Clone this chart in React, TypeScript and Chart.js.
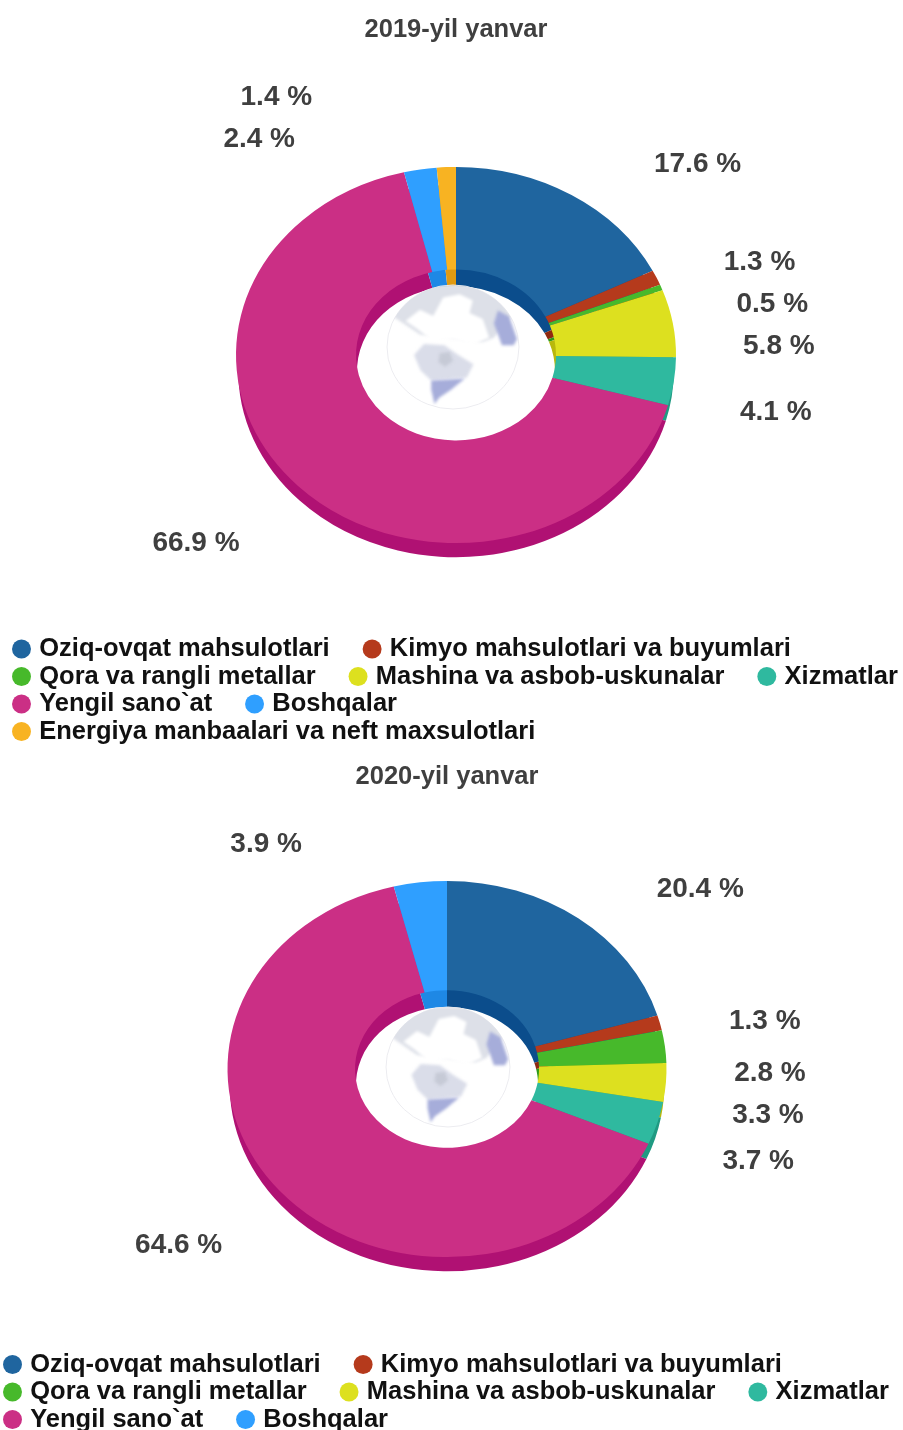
import React, { useEffect, useRef } from "react";
import { Chart, registerables } from "chart.js";

Chart.register(...registerables);

const categories = [
  "Oziq-ovqat mahsulotlari",
  "Kimyo mahsulotlari va buyumlari",
  "Qora va rangli metallar",
  "Mashina va asbob-uskunalar",
  "Xizmatlar",
  "Yengil sano`at",
  "Boshqalar",
  "Energiya manbaalari va neft maxsulotlari",
];
const values2019 = [17.6, 1.3, 0.5, 5.8, 4.1, 66.9, 2.4, 1.4];
const values2020 = [20.4, 1.3, 2.8, 3.3, 3.7, 64.6, 3.9];
const faceColors = ["#1F659F", "#B53A1C", "#47B92B", "#DDE01F", "#2FB99F", "#CB2F85", "#2F9FFF", "#F8B322"];
const wallColors = ["#0B4D8C", "#902A10", "#2E9A1A", "#B8B80C", "#1F9A82", "#B01173", "#1E88E5", "#E09A10"];
const labelNudges2019 = [[126, -31], [103, -15], [111, 17], [106, 23], [102, 31], [-102, 57], [-161, -30], [-170, -70]];
const labelNudges2020 = [[122, -29], [105, -2], [105, 27], [102, 33], [101, 38], [-101, 55], [-154, -38]];

// Globe artwork, unit-circle coordinates, painted in order
const globeShapes: [string, number[][]][] = [
  ["#DDE0E8", [[-0.92, -0.5], [-0.6, -1], [0.6, -1], [0.88, -0.5], [0.62, -0.15], [0.45, -0.08], [-0.5, -0.2]]],
  ["#FFFFFF", [[-0.72, -0.42], [-0.5, -0.6], [-0.3, -0.5], [-0.15, -0.8], [0.1, -0.85], [0.3, -0.75], [0.25, -0.55], [0.45, -0.45], [0.55, -0.15], [0.3, -0.03], [0.0, -0.12], [-0.3, -0.08], [-0.55, -0.3]]],
  ["#DADDE9", [[-0.59, 0.13], [-0.44, -0.05], [-0.13, -0.03], [0.08, 0.13], [0.31, 0.28], [0.21, 0.49], [-0.33, 0.54], [-0.49, 0.38]]],
  ["#C6CAD6", [[-0.2, 0.1], [-0.05, 0.08], [0.0, 0.22], [-0.12, 0.32], [-0.22, 0.24]]],
  ["#A6ADDA", [[-0.33, 0.54], [0.18, 0.51], [-0.03, 0.69], [-0.21, 0.82], [-0.28, 0.92], [-0.33, 0.69]]],
  ["#A6ADDA", [[0.68, -0.59], [0.85, -0.49], [0.97, -0.13], [0.92, -0.03], [0.74, -0.03], [0.69, -0.18], [0.62, -0.38]]],
];

type Cfg = {
  title: string;
  values: number[];
  nudges: number[][];
  top: number;
  height: number;
  cx: number;
  cy: number;
  radius: number;
  hole: number;
  squash: number;
  depth: number;
  titleTop: number;
  legendLeft: number;
  legendTop: number;
  globe: number[];
};

const panels: Cfg[] = [
  {
    title: "2019-yil yanvar", values: values2019, nudges: labelNudges2019,
    top: 0, height: 750, cx: 456, cy: 355, radius: 220, hole: 100, squash: 0.855, depth: 16,
    titleTop: 14.7, legendLeft: 14.5, legendTop: 634.25, globe: [453, 347, 66, 62],
  },
  {
    title: "2020-yil yanvar", values: values2020, nudges: labelNudges2020,
    top: 750, height: 680, cx: 447, cy: 319, radius: 219.5, hole: 92, squash: 0.857, depth: 16,
    titleTop: 11.7, legendLeft: 5.5, legendTop: 599.75, globe: [448, 317, 62, 60],
  },
];

const CANVAS_W = 955;
const WALL_SCALE = 0.99;
const FONT = "'Liberation Sans', Arial, sans-serif";
const TEXT_DARK = "#3F3F3F";
const LEGEND_GAP = "     ";

function makePlugin(cfg: Cfg) {
  const project = (chart: any, dy: number, s: number) => {
    const { ctx } = chart;
    ctx.translate(cfg.cx, cfg.cy + dy);
    ctx.scale(s, cfg.squash * s);
    ctx.translate(-cfg.cx, -cfg.cy);
  };
  return {
    id: "donut3d",
    afterLayout(chart: any) {
      const r = cfg.radius;
      chart.chartArea = {
        left: cfg.cx - r, right: cfg.cx + r, top: cfg.cy - r, bottom: cfg.cy + r,
        width: r * 2, height: r * 2,
      };
      const t = chart.titleBlock;
      t.left = cfg.cx - CANVAS_W / 2;
      t.right = cfg.cx + CANVAS_W / 2;
      t.top = cfg.titleTop;
      t.bottom = cfg.titleTop + 31;
      const l = chart.legend;
      l.left = cfg.legendLeft;
      l.right = CANVAS_W + cfg.legendLeft;
      const h = l.height;
      l.top = cfg.legendTop;
      l.bottom = cfg.legendTop + h;
      // markers overhang their narrow legend box, so the box must not clip them
      l.draw = () => l._draw();
    },
    beforeDatasetsDraw(chart: any) {
      const { ctx } = chart;
      const meta = chart.getDatasetMeta(0);
      ctx.save();
      project(chart, cfg.depth, WALL_SCALE);
      meta.data.forEach((arc: any, i: number) => {
        const saved = arc.options;
        arc.options = { ...saved, backgroundColor: wallColors[i], borderColor: wallColors[i] };
        arc.draw(ctx);
        arc.options = saved;
      });
      ctx.restore();
      ctx.save();
      project(chart, 0, 1);
    },
    afterDatasetsDraw(chart: any) {
      const { ctx } = chart;
      ctx.restore();

      // globe in the hole
      const [gx, gy, grx, gry] = cfg.globe;
      ctx.save();
      ctx.beginPath();
      ctx.ellipse(gx, gy, grx, gry, 0, 0, Math.PI * 2);
      ctx.strokeStyle = "#ECECF0";
      ctx.lineWidth = 1;
      ctx.stroke();
      ctx.clip();
      ctx.filter = "blur(1.5px)";
      globeShapes.forEach(([color, pts]) => {
        ctx.beginPath();
        pts.forEach(([x, y], i) => {
          const px = gx + x * grx;
          const py = gy + y * gry;
          if (i === 0) ctx.moveTo(px, py);
          else ctx.lineTo(px, py);
        });
        ctx.closePath();
        ctx.fillStyle = color;
        ctx.fill();
      });
      ctx.restore();

      // outside value labels
      const meta = chart.getDatasetMeta(0);
      ctx.save();
      ctx.font = `bold 28px ${FONT}`;
      ctx.fillStyle = TEXT_DARK;
      ctx.textAlign = "center";
      ctx.textBaseline = "middle";
      meta.data.forEach((arc: any, i: number) => {
        const mid = (arc.startAngle + arc.endAngle) / 2;
        const x = arc.x + Math.cos(mid) * arc.outerRadius + cfg.nudges[i][0];
        const y = arc.y + Math.sin(mid) * arc.outerRadius * cfg.squash + cfg.nudges[i][1];
        ctx.fillText(`${cfg.values[i]} %`, x, y);
      });
      ctx.restore();
    },
  };
}

function Donut({ cfg }: { cfg: Cfg }) {
  const ref = useRef<HTMLCanvasElement | null>(null);
  useEffect(() => {
    const chart = new Chart(ref.current as HTMLCanvasElement, {
      type: "doughnut",
      data: {
        labels: categories.slice(0, cfg.values.length),
        datasets: [
          {
            data: cfg.values,
            backgroundColor: faceColors.slice(0, cfg.values.length),
            borderWidth: 0,
            clip: false,
          } as any,
        ],
      },
      options: {
        responsive: false,
        animation: false,
        cutout: `${(cfg.hole / cfg.radius) * 100}%`,
        plugins: {
          title: {
            display: true,
            text: cfg.title,
            color: TEXT_DARK,
            padding: 0,
            font: { family: FONT, size: 25.5, weight: "bold" },
          },
          legend: {
            position: "bottom",
            align: "start",
            labels: {
              usePointStyle: true,
              pointStyle: "circle",
              boxWidth: 10,
              boxHeight: 13.4,
              padding: 2,
              color: "#111111",
              font: { family: FONT, size: 25.5, weight: "bold" },
              generateLabels(c: any) {
                return (Chart as any).overrides.doughnut.plugins.legend.labels
                  .generateLabels(c)
                  .map((it: any) => ({ ...it, text: it.text + LEGEND_GAP }));
              },
            },
          },
          tooltip: { enabled: false },
        },
      } as any,
      plugins: [makePlugin(cfg) as any],
    });
    return () => chart.destroy();
  }, [cfg]);
  return (
    <canvas
      ref={ref}
      width={CANVAS_W}
      height={cfg.height}
      style={{ position: "absolute", left: 0, top: cfg.top, display: "block" }}
    />
  );
}

export default function App() {
  return (
    <div style={{ position: "absolute", left: 0, top: 0, width: 903, height: 1430, overflow: "hidden", background: "#fff" }}>
      {panels.map((p) => (
        <Donut key={p.title} cfg={p} />
      ))}
    </div>
  );
}
